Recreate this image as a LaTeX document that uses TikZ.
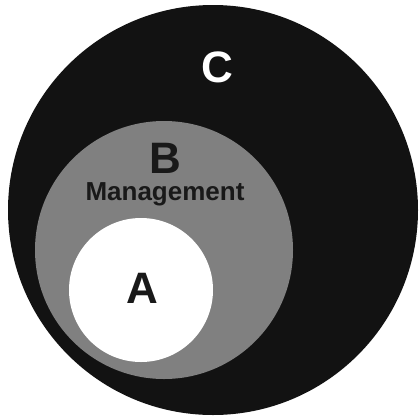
\documentclass[tikz,border=0pt]{standalone}
\usepackage{fontspec}
\setmainfont{Liberation Sans}
\usetikzlibrary{positioning}
\tikzset{
  setdisc/.style={circle, inner sep=0pt, draw=none},
  setname/.style={anchor=base, inner sep=0pt, font=\fontsize{44}{44}\selectfont\bfseries},
  setnote/.style={anchor=base, inner sep=0pt, font=\fontsize{26}{26}\selectfont\bfseries},
}
\begin{document}
\begin{tikzpicture}[x=1pt, y=-1pt]
  \useasboundingbox (0,0) rectangle (420,418);
  % nested sets
  \node[setdisc, fill=black!93, minimum size=410pt] (setC) at (213,210) {};
  \node[setdisc, fill=black!50, minimum size=258pt] (setB) at (164,250) {};
  \node[setdisc, fill=white, minimum size=144pt] (setA) at (141,290) {};
  % labels
  \node[setname, text=white] (labC) at (217,82) {C};
  \node[setname, text=black!90] (labB) at (165,173) {B};
  \node[setnote, text=black!90] (labM) at (165,200) {Management};
  \node[setname, text=black!90] (labA) at (142,303) {A};
\end{tikzpicture}
\end{document}
